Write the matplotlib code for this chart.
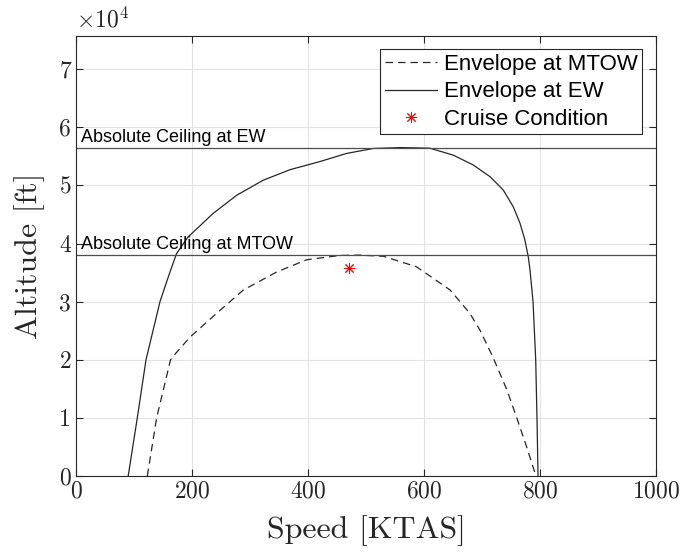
import matplotlib
matplotlib.use("Agg")
import matplotlib.pyplot as plt
from matplotlib.ticker import FuncFormatter

plt.rcParams['mathtext.fontset'] = 'cm'
plt.rcParams['font.family'] = 'serif'
plt.rcParams['font.serif'] = ['cmr10', 'DejaVu Serif']
plt.rcParams['axes.formatter.use_mathtext'] = True

# Envelope at MTOW (dashed)
mtow_speed = [123, 139, 163, 172, 196.6, 242.6, 288.5, 346, 397.7, 455, 490,
              529.9, 587, 645, 679, 697, 719.5, 742.6, 760, 777, 793]
mtow_alt = [0, 10000, 20000, 21100, 23900, 28000, 32000, 35100, 37200, 37950, 38000,
            37800, 36000, 32000, 28000, 25000, 20300, 14900, 10000, 5000, 0]

# Envelope at EW (solid)
ew_speed = [90, 105.7, 120.7, 144.8, 160, 173, 193, 236.7, 277, 323, 369, 420.7,
            466.7, 512.6, 560, 610, 650.5, 685, 713.8, 736.7, 754, 765.5, 774,
            779.8, 782.8, 788, 792.6, 794.8, 796.6]
ew_alt = [0, 10000, 20000, 30000, 34500, 38200, 41100, 45200, 48300, 50900, 52700, 54100,
          55500, 56350, 56500, 56400, 55200, 53500, 51500, 49200, 46300, 43500, 40600,
          37700, 35400, 30000, 20000, 10000, 0]

ceiling_ew = 56450
ceiling_mtow = 37970
cruise_speed = [470]
cruise_alt = [35800]

fig = plt.figure(figsize=(6.83, 5.54), dpi=100)
ax = fig.add_axes([76/683, 1-476/554, (656-76)/683, (476-36)/554])

ax.plot(mtow_speed, mtow_alt, '--', color='#262626', lw=0.9, dashes=(6, 4),
        label='Envelope at MTOW')
ax.plot(ew_speed, ew_alt, '-', color='#262626', lw=0.9, label='Envelope at EW')
ax.plot(cruise_speed, cruise_alt, color='red', markersize=8, markeredgewidth=0.7,
        linestyle='none', label='Cruise Condition', marker=(8, 2, 0))
ax.axhline(ceiling_ew, color='#4d4d4d', lw=0.9)
ax.axhline(ceiling_mtow, color='#4d4d4d', lw=0.9)

sans = ['Liberation Sans', 'DejaVu Sans']
ax.text(8, ceiling_ew + 350, 'Absolute Ceiling at EW', family=sans, fontsize=13,
        va='bottom', ha='left')
ax.text(8, ceiling_mtow + 350, 'Absolute Ceiling at MTOW', family=sans, fontsize=13,
        va='bottom', ha='left')

ax.set_xlim(0, 1000)
ax.set_ylim(0, 75700)
ax.set_xticks([0, 200, 400, 600, 800, 1000])
ax.set_yticks([0, 10000, 20000, 30000, 40000, 50000, 60000, 70000])
ax.yaxis.set_major_formatter(FuncFormatter(lambda v, p: f'{v/1e4:g}'))
ax.tick_params(direction='in', length=5, width=0.8, colors='#262626', labelsize=17,
               top=True, right=True, labelcolor='#262626')
for s in ax.spines.values():
    s.set_color('#262626')
    s.set_linewidth(0.8)
ax.grid(True, color='#e3e3e3', lw=0.8)
ax.set_axisbelow(True)

ax.set_xlabel(r'Speed [KTAS]', fontsize=23, color='#262626', labelpad=9)
ax.set_ylabel(r'Altitude [ft]', fontsize=23, color='#262626', labelpad=10)
ax.text(0, 1.008, r'$\times10^4$', transform=ax.transAxes, fontsize=17,
        color='#262626', ha='left', va='bottom')

leg = ax.legend(loc='upper right', bbox_to_anchor=(0.976, 0.970), prop={'family': sans, 'size': 16},
                fancybox=False, edgecolor='#262626', framealpha=1, borderpad=0.2,
                labelspacing=0.3, handlelength=2.35, handletextpad=0.3, borderaxespad=0)
leg.get_frame().set_linewidth(0.8)

fig.savefig('out.png', dpi=100)
